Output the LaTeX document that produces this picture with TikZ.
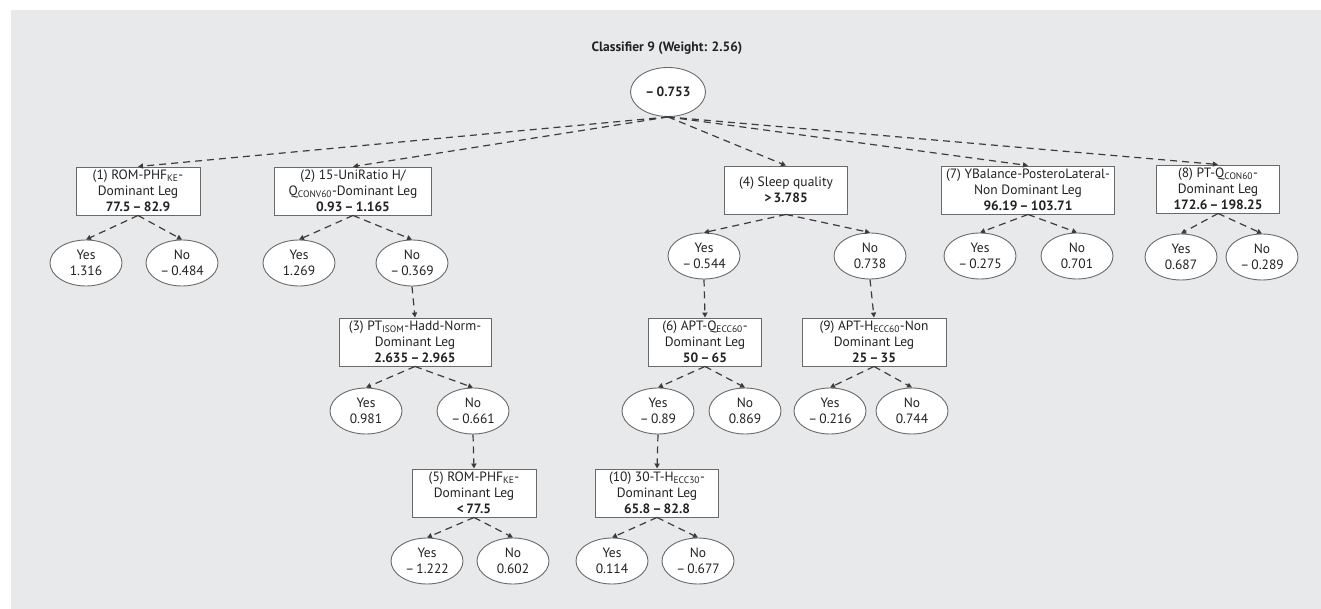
\documentclass[tikz,border=0pt]{standalone}
\usepackage{fontspec}
\setmainfont{PT Sans}
\usetikzlibrary{arrows.meta,shapes.geometric}
\definecolor{panel}{HTML}{E8E9EB}
\definecolor{edge}{HTML}{3C3C3C}
\definecolor{frame}{HTML}{6A6A6A}
\definecolor{ink}{HTML}{222222}
\begin{document}
\begin{tikzpicture}[x=1pt,y=-1pt,
  every node/.style={font=\fontsize{13.5}{16}\selectfont, text=ink, align=center},
  split/.style={draw=frame, fill=white, line width=0.9pt, rectangle, minimum height=48pt, inner sep=1pt},
  leaf/.style={draw=frame, fill=white, line width=0.9pt, ellipse, minimum width=72pt, minimum height=46pt, inner sep=0pt},
  link/.style={draw=edge, line width=1.2pt, dash pattern=on 7pt off 5pt, -{Triangle[length=5pt,width=5pt]}},
]
\useasboundingbox (0,0) rectangle (1321,609);
\fill[white] (0,0) rectangle (1321,609);
\fill[panel] (11,10) rectangle (1321,609);

% title and root
\node[font=\fontsize{13.5}{16}\selectfont\bfseries] (title) at (667,48) {Classifier 9 (Weight: 2.56)};
\node[leaf, minimum width=75pt, minimum height=49pt, font=\fontsize{13.5}{16}\selectfont\bfseries] (root) at (668,92) {–\,0.753};

% split (1)
\node[split, minimum width=124pt] (n1) at (138,191) {(1) ROM-PHF\textsubscript{KE}-\\Dominant Leg\\\textbf{77.5\,–\,82.9}};
\node[leaf] (y1) at (86,263) {Yes\\1.316};
\node[leaf] (o1) at (182,263) {No\\–\,0.484};

% split (2)
\node[split, minimum width=157pt] (n2) at (353,191) {(2) 15-UniRatio H/\\Q\textsubscript{CONV60}-Dominant Leg\\\textbf{0.93\,–\,1.165}};
\node[leaf] (y2) at (299,263) {Yes\\1.269};
\node[leaf] (o2) at (412,263) {No\\–\,0.369};

% split (3)
\node[split, minimum width=152pt] (n3) at (415,342) {(3) PT\textsubscript{ISOM}-Hadd-Norm-\\Dominant Leg\\\textbf{2.635\,–\,2.965}};
\node[leaf] (y3) at (366,411) {Yes\\0.981};
\node[leaf] (o3) at (473,411) {No\\–\,0.661};

% split (5)
\node[split, minimum width=124pt] (n5) at (474,493) {(5) ROM-PHF\textsubscript{KE}-\\Dominant Leg\\\textbf{<\,77.5}};
\node[leaf] (y5) at (427,561) {Yes\\–\,1.222};
\node[leaf] (o5) at (513,561) {No\\0.602};

% split (4)
\node[split, minimum width=123pt] (n4) at (786,190) {(4) Sleep quality\\\textbf{>\,3.785}};
\node[leaf] (y4) at (704,256) {Yes\\–\,0.544};
\node[leaf] (o4) at (870,256) {No\\0.738};

% split (6)
\node[split, minimum width=113pt] (n6) at (705,342) {(6) APT-Q\textsubscript{ECC60}-\\Dominant Leg\\\textbf{50\,–\,65}};
\node[leaf] (y6) at (658,411) {Yes\\–\,0.89};
\node[leaf] (o6) at (745,411) {No\\0.869};

% split (10)
\node[split, minimum width=123pt] (n10) at (657,493) {(10) 30-T-H\textsubscript{ECC30}-\\Dominant Leg\\\textbf{65.8\,–\,82.8}};
\node[leaf] (y10) at (612,561) {Yes\\0.114};
\node[leaf] (o10) at (698,561) {No\\–\,0.677};

% split (9)
\node[split, minimum width=144pt] (n9) at (874,342) {(9) APT-H\textsubscript{ECC60}-Non\\Dominant Leg\\\textbf{25\,–\,35}};
\node[leaf] (y9) at (830,411) {Yes\\–\,0.216};
\node[leaf] (o9) at (912,411) {No\\0.744};

% split (7)
\node[split, minimum width=173pt] (n7) at (1028,190) {(7) YBalance-PosteroLateral-\\Non Dominant Leg\\\textbf{96.19\,–\,103.71}};
\node[leaf] (y7) at (980,256) {Yes\\–\,0.275};
\node[leaf] (o7) at (1077,256) {No\\0.701};

% split (8)
\node[split, minimum width=123pt] (n8) at (1218,189) {(8) PT-Q\textsubscript{CON60}-\\Dominant Leg\\\textbf{172.6\,–\,198.25}};
\node[leaf] (y8) at (1181,257) {Yes\\0.687};
\node[leaf] (o8) at (1262,257) {No\\–\,0.289};

% connectors from the root
\foreach \t in {n1,n2,n4,n7,n8}
  \draw[link] (root.south) -- (\t.north);

% connectors from each split to its outcomes
\foreach \s/\a/\b in {n1/y1/o1, n2/y2/o2, n3/y3/o3, n5/y5/o5, n4/y4/o4, n6/y6/o6, n10/y10/o10, n9/y9/o9, n7/y7/o7, n8/y8/o8}{
  \draw[link] (\s.south) -- (\a.north);
  \draw[link] (\s.south) -- (\b.north);
}

% outcomes that lead to further splits
\draw[link] (o2.south) -- (n3.north);
\draw[link] (o3.south) -- (n5.north);
\draw[link] (y4.south) -- (n6.north);
\draw[link] (y6.south) -- (n10.north);
\draw[link] (o4.south) -- (n9.north);
\end{tikzpicture}
\end{document}
